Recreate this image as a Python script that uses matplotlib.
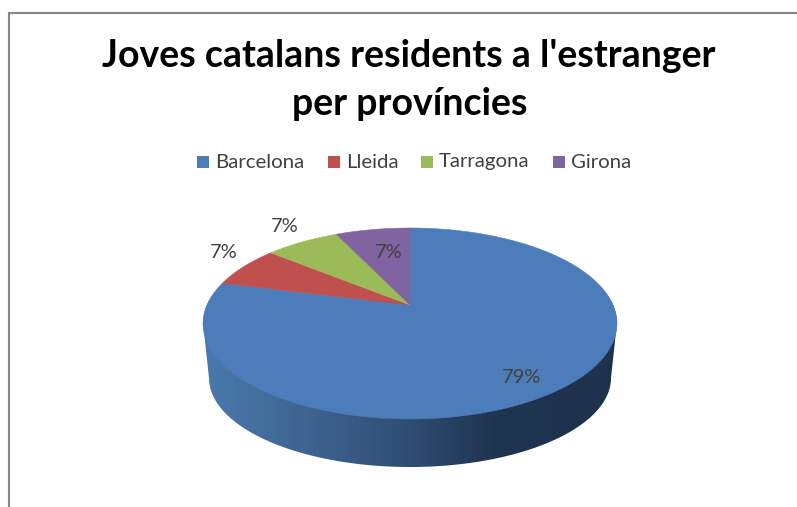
import numpy as np
import matplotlib
matplotlib.use("Agg")
import matplotlib.pyplot as plt
from matplotlib.colors import LinearSegmentedColormap
from matplotlib.patches import Polygon, Rectangle

# data
provinces = ["Barcelona", "Lleida", "Tarragona", "Girona"]
shares = [79, 7, 7, 7]
title_lines = ["Joves catalans residents a l'estranger", "per províncies"]

colors = ["#4c7dba", "#c0504d", "#9bbb59", "#8064a2"]
text_color = "#404040"
plt.rcParams["font.family"] = ["Lato", "DejaVu Sans"]

# pie geometry in pixels, the tilt gives the apex above the ellipse centre
cx, apex_y = 410, 305
rx, tilt_h, tilt_k = 203, 91.9, 0.1937


def project(angle, r=1.0):
    # angle in degrees clockwise from 12 o'clock
    a = np.radians(angle)
    u, v = r * np.sin(a), -r * np.cos(a)
    w = 1 - tilt_k * v
    return cx + rx * u / w, apex_y + tilt_h * v / w


fig = plt.figure(figsize=(7.97, 5.07), dpi=100)
ax = fig.add_axes([0, 0, 1, 1])
ax.set_xlim(0, 797)
ax.set_ylim(507, 0)
ax.axis("off")

# chart border, only left and top are in the crop
ax.plot([9.5, 9.5, 797], [507, 13.3, 13.3], color="#868686", lw=1.5, solid_joinstyle="miter")

# side of the pie
t = np.radians(np.linspace(0, 180, 200))
bottom_x = cx + 201 * np.cos(t)
bottom_y = 378 + 89 * np.sin(t)
rim_x, rim_y = project(np.linspace(-101, 101, 200))
side_xy = np.column_stack([np.r_[bottom_x, rim_x], np.r_[bottom_y, rim_y]])
side = Polygon(side_xy, closed=True, facecolor="none", edgecolor="none")
ax.add_patch(side)
side_cmap = LinearSegmentedColormap.from_list(
    "side",
    [(0, "#4a7aae"), (0.12, "#44709f"), (0.3, "#3c5f8a"), (0.5, "#2f4d73"),
     (0.7, "#1f3450"), (1, "#1e324e")],
)
grad = ax.imshow(np.linspace(0, 1, 256)[None, :], extent=[203, 617, 480, 300],
                 cmap=side_cmap, aspect="auto", zorder=2)
grad.set_clip_path(side)
ax.set_xlim(0, 797)
ax.set_ylim(507, 0)

# top face, clockwise from 12 o'clock
edges = np.r_[0, np.cumsum(shares)] / sum(shares) * 360
for i, share in enumerate(shares):
    angles = np.linspace(edges[i], edges[i + 1], 200)
    xs, ys = project(angles)
    ax.add_patch(Polygon(np.column_stack([np.r_[cx, xs], np.r_[apex_y, ys]]), closed=True,
                         facecolor=colors[i], edgecolor=colors[i], lw=0.4, zorder=3))

# percent labels, radius and angle nudge per slice
label_r = [0.838, 1.22, 1.27, 0.648]
label_da = [3, 5, 2, 2]
for i, share in enumerate(shares):
    mid = (edges[i] + edges[i + 1]) / 2 + label_da[i]
    lx, ly = project(mid, label_r[i])
    ax.text(lx, ly, f"{share}%", ha="center", va="center", fontsize=14.5, color=text_color, zorder=4)

# title
ax.text(409, 56, title_lines[0], ha="center", va="center", fontsize=27, fontweight="bold", color="black")
ax.text(410, 104, title_lines[1], ha="center", va="center", fontsize=27, fontweight="bold", color="black")

# legend
swatch_x = [197, 328, 421, 553]
for name, col, sx in zip(provinces, colors, swatch_x):
    ax.add_patch(Rectangle((sx, 156), 12, 12, facecolor=col, edgecolor="none"))
    ax.text(sx + 18, 162, name, ha="left", va="center", fontsize=14.7, color=text_color)

fig.savefig("out.png", dpi=100, facecolor="white")
